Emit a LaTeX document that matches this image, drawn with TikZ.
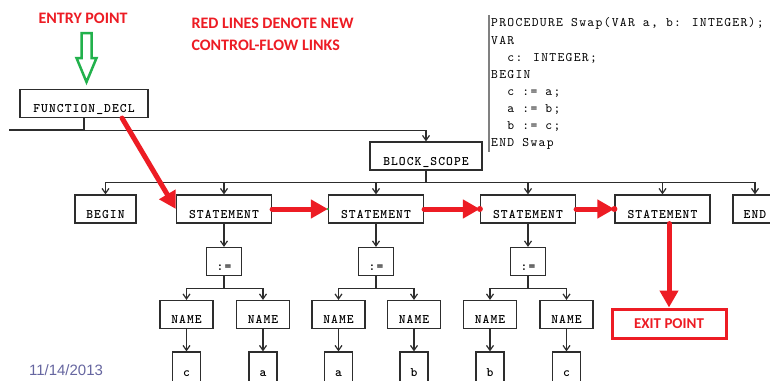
\documentclass[tikz,border=0pt]{standalone}
\usepackage{fontspec}
\newfontfamily\treefont{lmmonolt10-bold}[Extension=.otf,LetterSpace=8]
\newfontfamily\codefont{lmmono10-regular}[Extension=.otf,LetterSpace=10]
\newfontfamily\notefont{Carlito}
\newfontfamily\datefont{Liberation Sans}
\usetikzlibrary{arrows.meta}
\definecolor{flowred}{RGB}{237,28,36}
\definecolor{entrygreen}{RGB}{34,177,76}
\definecolor{datecol}{RGB}{102,102,160}
\definecolor{treegray}{RGB}{45,45,45}

\begin{document}
\begin{tikzpicture}[x=1pt,y=-1pt,>={Straight Barb[length=5pt,width=7pt]},
  box/.style={draw=treegray,line width=1.2pt,inner xsep=2pt,inner ysep=3pt,
    text height=20pt,text depth=2pt,minimum height=28pt,
    font=\treefont\fontsize{13}{16}\selectfont},
  leaf/.style={box,text height=21pt,text depth=5pt},
  edge/.style={->,treegray,line width=1.2pt},
  flow/.style={flowred,line width=5pt,line cap=round,-{Triangle[length=17pt,width=18pt]}},
  note/.style={text=flowred,font=\notefont\bfseries\fontsize{16}{22}\selectfont}]
\useasboundingbox[fill=white] (0,0) rectangle (770,380);
\clip (0,0) rectangle (770,380);

% texts
\node[note] at (83,18) (entry) {ENTRY POINT};
\node[note,anchor=west,align=left] at (188,34) (legend) {RED LINES DENOTE NEW\\CONTROL-FLOW LINKS};
\node[text=datecol,font=\datefont\fontsize{15}{18}\selectfont] at (66,370) (date) {11/14/2013};

% source code
\draw[gray,line width=1.5pt] (489,15) -- (489,152);
\foreach \t [count=\i] in {{PROCEDURE Swap(VAR a, b: INTEGER);},VAR,{\ \ c: INTEGER;},BEGIN,{\ \ c := a;},{\ \ a := b;},{\ \ b := c;},END Swap}
  \node[anchor=base west,inner sep=0pt,font=\codefont\fontsize{13}{16}\selectfont] at (491,27+17*\i-17) (code\i) {\t};

% tree
\node[box,minimum width=128pt] at (84,103.5) (fdecl) {FUNCTION\_DECL};
\node[box,minimum width=112pt] at (426,156) (block) {BLOCK\_SCOPE};
\node[box,minimum width=61pt] at (105.5,209) (begin) {BEGIN};
\node[box,minimum width=95pt] at (224,209) (stmtA) {STATEMENT};
\node[box,minimum width=95pt] at (376,209) (stmtB) {STATEMENT};
\node[box,minimum width=95pt] at (528,209) (stmtC) {STATEMENT};
\node[box,minimum width=95pt] at (662.5,209) (stmtD) {STATEMENT};
\node[box,minimum width=44pt] at (755,209) (end) {END};
\foreach \n/\x in {A/224,B/376,C/528}
  \node[box,minimum width=35pt] at (\x,261.5) (asg\n) {:=};
\foreach \n/\x/\t in {1/186.5/c,2/263/a,3/338.5/a,4/414/b,5/490/b,6/566.5/c}{
  \node[box,minimum width=53pt] at (\x,314.5) (name\n) {NAME};
  \node[leaf,minimum width=28pt] at (\x,368) (leaf\n) {\t};
}

\coordinate (busL) at (9,130);
\draw[treegray,line width=1.2pt] (fdecl.south) |- (busL);
\foreach \p/\c in {fdecl/block,block/begin,block/stmtA,block/stmtB,block/stmtC,block/stmtD,block/end,
    stmtA/asgA,stmtB/asgB,stmtC/asgC,asgA/name1,asgA/name2,asgB/name3,asgB/name4,asgC/name5,asgC/name6,
    name1/leaf1,name2/leaf2,name3/leaf3,name4/leaf4,name5/leaf5,name6/leaf6}
  \draw[edge] (\p.south) -- ++(0,12) -| (\c.north);

% entry and exit
\draw[entrygreen,line width=2.5pt] (81.5,33) -- (91.5,33) -- (91.5,58) -- (96.5,58) -- (86.5,82) -- (76.5,58) -- (81.5,58) -- cycle;
\node[draw=flowred,line width=3pt,minimum width=114pt,minimum height=29pt,note,
  font=\notefont\bfseries\fontsize{15}{18}\selectfont] at (669,323.5) (exit) {EXIT POINT};

% control flow
\draw[flow] (fdecl.-21) -- (stmtA.west);
\draw[flow] (stmtA.east) -- (stmtB.west);
\draw[flow] (stmtB.east) -- (stmtC.west);
\draw[flow] (stmtC.east) -- (stmtD.west);
\draw[flow] (stmtD.south -| exit.north) -- (exit.north);
\fill[entrygreen] (stmtB.west) circle[radius=1.2pt];
\fill[flowred] (stmtC.west) circle[radius=3pt] (stmtD.west) circle[radius=3pt];
\end{tikzpicture}
\end{document}
